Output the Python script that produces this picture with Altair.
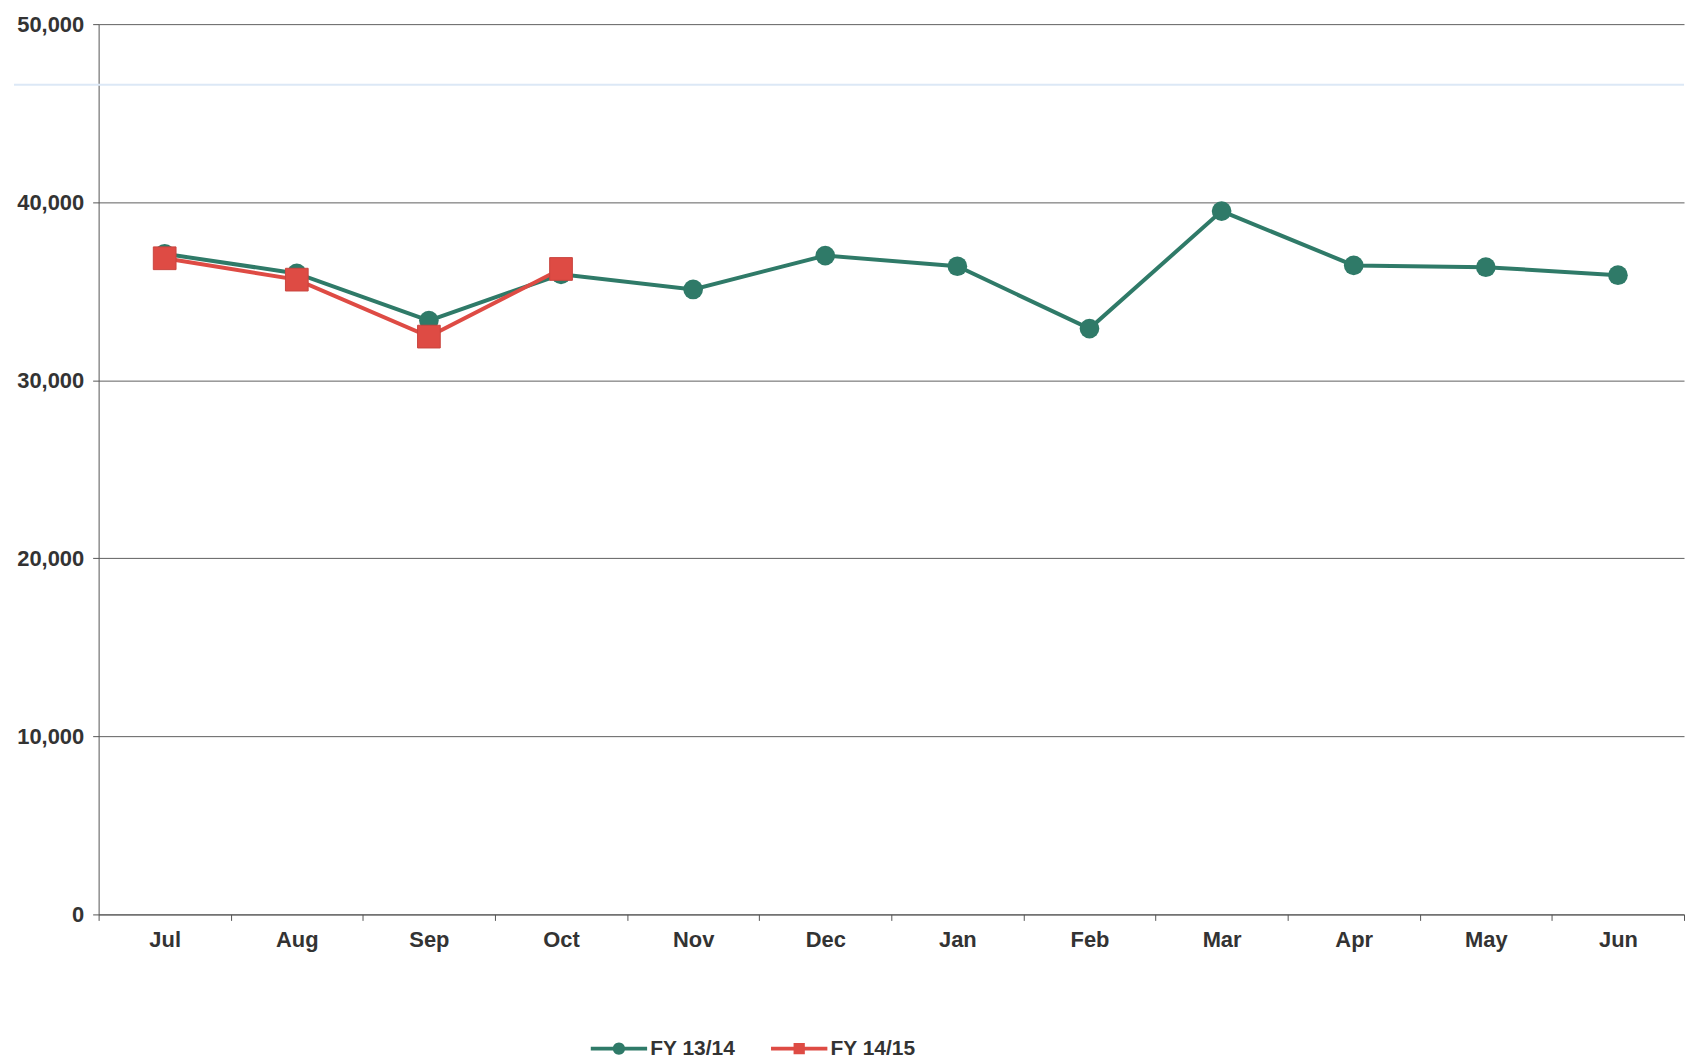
import altair as alt
import pandas as pd

months = ["Jul", "Aug", "Sep", "Oct", "Nov", "Dec", "Jan", "Feb", "Mar", "Apr", "May", "Jun"]
series_names = ["FY 13/14", "FY 14/15"]
fy1314 = [37100, 36000, 33350, 35950, 35100, 37000, 36400, 32900, 39500, 36450, 36350, 35900]
fy1415 = [36850, 35650, 32450, 36250]
y_ticks = [0, 10000, 20000, 30000, 40000, 50000]
colors = ["#2F7A68", "#DE4B44"]

rows = []
for m, v in zip(months, fy1314):
    rows.append({"month": m, "value": v, "series": series_names[0]})
for m, v in zip(months, fy1415):
    rows.append({"month": m, "value": v, "series": series_names[1]})
df = pd.DataFrame(rows)

FONT = "Liberation Sans"
TXT = "#333333"

color_scale = alt.Scale(domain=series_names, range=colors)

x_enc = alt.X(
    "month:N",
    sort=months,
    bandPosition=0.5,
    scale=alt.Scale(type="band", paddingInner=0, paddingOuter=0),
    axis=alt.Axis(
        title=None, labelAngle=0, tickBand="extent", labelFont=FONT,
        labelFontSize=22, labelFontWeight="bold", labelColor=TXT,
        domainColor="#555555", tickColor="#555555", tickSize=6,
        labelPadding=9, grid=False,
    ),
)
y_enc = alt.Y(
    "value:Q",
    scale=alt.Scale(domain=[0, 50000]),
    axis=alt.Axis(
        title=None, values=y_ticks, format=",d", labelFont=FONT,
        labelFontSize=22, labelFontWeight="bold", labelColor=TXT,
        domainColor="#555555", tickColor="#555555", tickSize=6,
        labelPadding=9, grid=True, gridColor="#5f5f5f", gridWidth=1,
    ),
)

base = alt.Chart(df)
s0 = base.transform_filter(alt.datum.series == series_names[0])
s1 = base.transform_filter(alt.datum.series == series_names[1])

line0 = s0.mark_line(strokeWidth=4, color=colors[0]).encode(x=x_enc, y=y_enc)
line1 = s1.mark_line(strokeWidth=4, color=colors[1]).encode(x=x_enc, y=y_enc)
circles = s0.mark_circle(size=390, opacity=1, color=colors[0]).encode(x=x_enc, y=y_enc)
squares = s1.mark_square(
    size=520, opacity=1, color=colors[1], stroke="#C9453E", strokeWidth=1
).encode(x=x_enc, y=y_enc)

# faint scan line across the page
scan_line = alt.Chart(pd.DataFrame({"v": [46600]})).mark_rule(
    color="#dce8f6", strokeWidth=2
).encode(
    y=alt.Y("v:Q"),
    x=alt.value(-85),
    x2=alt.value(1592),
)

path_circle = ("M-1,-0.07H1V0.07H-1Z "
               "M-0.22,0A0.22,0.22 0 1,1 0.22,0A0.22,0.22 0 1,1 -0.22,0Z")
path_square = "M-1,-0.07H1V0.07H-1Z M-0.2,-0.2H0.2V0.2H-0.2Z"

legend_opts = dict(
    title=None, orient="none", direction="horizontal",
    legendX=494, legendY=1000,
    labelFont=FONT, labelFontSize=21, labelFontWeight="bold",
    labelColor=TXT, labelOffset=3, columnPadding=35,
    symbolStrokeWidth=0, symbolSize=3200,
)

legend_layer = base.transform_filter("false").mark_point(
    filled=True, size=3200, opacity=1
).encode(
    x=x_enc, y=y_enc,
    color=alt.Color("series:N", scale=color_scale, legend=alt.Legend(**legend_opts)),
    shape=alt.Shape(
        "series:N",
        scale=alt.Scale(domain=series_names, range=[path_circle, path_square]),
        legend=alt.Legend(**legend_opts),
    ),
)

chart = alt.layer(scan_line, line0, circles, line1, squares, legend_layer).properties(
    width=1592, height=894,
    padding={"left": 5, "top": 3, "right": 0, "bottom": 0},
    background="white",
).configure_view(stroke=None)

chart.save("out.html", embed_options={"renderer": "svg", "actions": False})
